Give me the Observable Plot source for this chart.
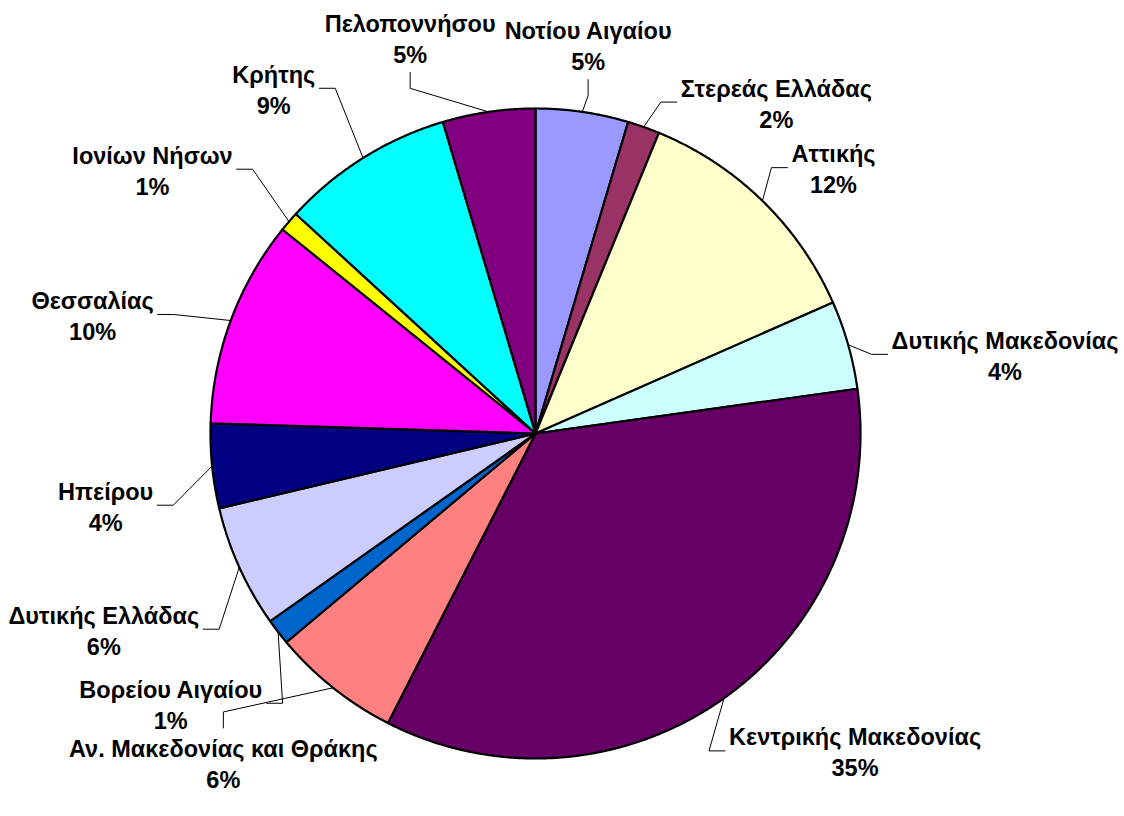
<!DOCTYPE html>
<html><head><meta charset="utf-8">
<script src="https://cdn.jsdelivr.net/npm/d3@7"></script>
<script src="https://cdn.jsdelivr.net/npm/@observablehq/plot@0.6"></script>
<style>body{margin:0;background:#fff} #chart{width:1124px;height:816px} #chart svg text{font-weight:700}</style>
</head><body><div id="chart"></div>
<script>
// ---- data (clockwise from 12 o'clock) ----
const regions = ["Νοτίου Αιγαίου","Στερεάς Ελλάδας","Αττικής","Δυτικής Μακεδονίας","Κεντρικής Μακεδονίας","Αν. Μακεδονίας και Θράκης","Βορείου Αιγαίου","Δυτικής Ελλάδας","Ηπείρου","Θεσσαλίας","Ιονίων Νήσων","Κρήτης","Πελοποννήσου"];
const shares = [4.6,1.6,12.2,4.4,34.7,6.4,1.3,6.1,4.2,10.3,1.0,8.6,4.6];
const colors = ["#9999FF","#993366","#FFFFCC","#CCFFFF","#660066","#FF8080","#0066CC","#CCCCFF","#000080","#FF00FF","#FFFF00","#00FFFF","#800080"];

// ---- layout ----
const W = 1124, H = 816, R = 325, cx = 535, cy = 433;
const FONT = "Liberation Sans, Arial, sans-serif", FS = 23.5, LH = 1.32;
const xDomain = [-cx / R, (W - cx) / R];
const yDomain = [-(H - cy) / R, cy / R];

const total = d3.sum(shares);
let acc = 0;
const slices = regions.map((name, i) => {
  const a0 = acc / total * 2 * Math.PI;
  acc += shares[i];
  const a1 = acc / total * 2 * Math.PI;
  return {name, color: colors[i], a0, a1, mid: (a0 + a1) / 2,
          pct: Math.round(shares[i] / total * 100) + "%"};
});

// slice polygons
const polys = [];
for (const s of slices) {
  polys.push({name: s.name, color: s.color, x: 0, y: 0});
  const n = Math.max(2, Math.ceil((s.a1 - s.a0) / 0.005));
  for (let k = 0; k <= n; k++) {
    const a = s.a0 + (s.a1 - s.a0) * k / n;
    polys.push({name: s.name, color: s.color, x: Math.sin(a), y: Math.cos(a)});
  }
  polys.push({name: s.name, color: s.color, x: 0, y: 0});
}

// label boxes, placed outside the pie along an angle, relaxed angularly
const ctx = document.createElement("canvas").getContext("2d");
ctx.font = `bold ${FS}px Liberation Sans`;
const kOut = 1.11, kUL = 0.25, yShift = 30 / R, padX = 24, rot = -0.07;
const xMin = xDomain[0] + 6 / R, xMax = xDomain[1] - 6 / R, yMin = yDomain[0] + 2 / R, yMax = yDomain[1] - 4 / R;
const boxes = slices.map(s => {
  const tw = Math.max(ctx.measureText(s.name).width, ctx.measureText(s.pct).width) / R;
  return {s, phi: s.mid + rot * Math.max(0, -Math.cos(s.mid)), tw, w: tw + 2 * padX / R, h: (FS * LH * 2) / R};
});
function place(b) {
  const sx = Math.sin(b.phi), sy = Math.cos(b.phi);
  const k = kOut + kUL * Math.max(0, -sx) * Math.max(0, sy);
  b.x = k * sx + b.w / 2 * sx;
  b.y = k * sy + b.h / 2 * sy - yShift * sx * sx;
  b.x = Math.min(Math.max(b.x, xMin + b.tw / 2), xMax - b.tw / 2);
  b.y = Math.min(Math.max(b.y, yMin + b.h / 2), yMax - b.h / 2);
}
boxes.forEach(place);
function overlap(a, b) {
  const pad = 8 / R;
  return Math.abs(a.x - b.x) < (a.tw + b.tw) / 2 + pad && Math.abs(a.y - b.y) < (a.h + b.h) / 2 - 4 / R;
}
for (let it = 0; it < 3000; it++) {
  let any = false;
  for (let i = 0; i < boxes.length; i++) {
    const a = boxes[i], b = boxes[(i + 1) % boxes.length];
    if (overlap(a, b)) { a.phi -= 0.002; b.phi += 0.002; place(a); place(b); any = true; }
  }
  if (!any) break;
}
const labels = boxes.map(b => ({x: b.x, y: b.y, text: b.s.name + "\n" + b.s.pct}));

// leaders: from the slice's arc midpoint to the nearest side of its label
const leaders = [];
const stub = 16 / R, gap = 4 / R;
for (const b of boxes) {
  const s = b.s, sx = Math.sin(s.mid), sy = Math.cos(s.mid);
  const p0 = {x: sx, y: sy};
  let p1, p2;
  if (Math.abs(p0.x - b.x) > b.tw / 2) {
    const side = Math.sign(b.x - p0.x);
    p2 = {x: b.x - side * (b.tw / 2 + gap), y: b.y};
    p1 = {x: p2.x - side * stub, y: p2.y};
  } else {
    const side = Math.sign(b.y - p0.y);
    p2 = {x: b.x, y: b.y - side * (b.h / 2 + gap)};
    p1 = {x: p2.x, y: p2.y - side * stub};
  }
  for (const p of [p0, p1, p2]) leaders.push({name: s.name, ...p});
}

const chart = Plot.plot({
  width: W, height: H,
  margin: 0,
  x: {domain: xDomain, axis: null},
  y: {domain: yDomain, axis: null},
  style: {background: "white", fontFamily: FONT},
  marks: [
    Plot.line(leaders, {x: "x", y: "y", z: "name", stroke: "black", strokeWidth: 1, curve: "linear"}),
    Plot.line(polys, {x: "x", y: "y", z: "name", fill: "color", stroke: "black", strokeWidth: 2.2, strokeLinejoin: "round", curve: "linear"}),
    Plot.text(labels, {x: "x", y: "y", text: "text", fontSize: FS, fontWeight: "bold", fill: "black",
      lineHeight: LH, lineAnchor: "middle", textAnchor: "middle", fontFamily: FONT})
  ]
});
document.getElementById("chart").append(chart);
</script>
</body></html>
